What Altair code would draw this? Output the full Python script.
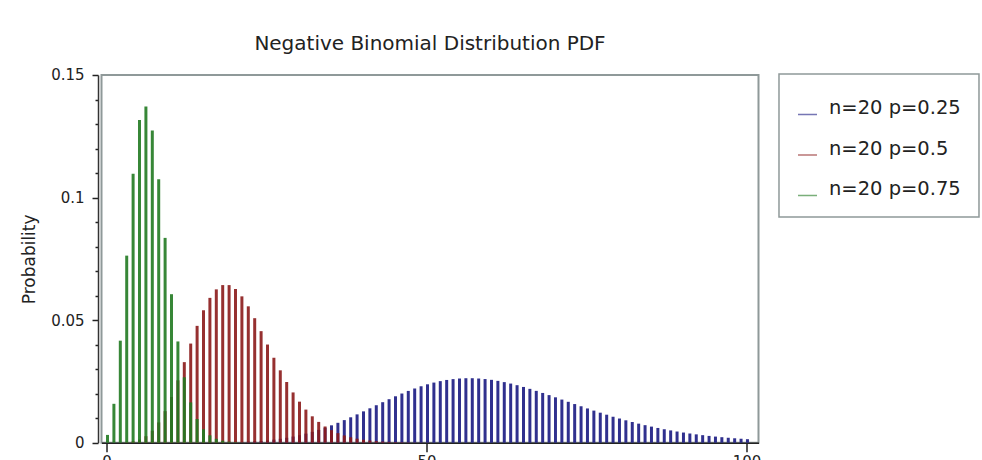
import altair as alt
import pandas as pd

series_names = ["n=20 p=0.25", "n=20 p=0.5", "n=20 p=0.75"]
series_colors = ["#1a1a82", "#8b1a1a", "#217a21"]

# n=20 p=0.25, k starts at 15
blue_start = 15
blue_vals = [0.00002, 0.00004, 0.00006, 0.00009, 0.00014, 0.00020, 0.00028, 0.00040, 0.00054, 0.00073,
             0.00097, 0.00125, 0.00160, 0.00201, 0.00250, 0.00306, 0.00370, 0.00443, 0.00523, 0.00612,
             0.00708, 0.00811, 0.00921, 0.01036, 0.01155, 0.01278, 0.01403, 0.01528, 0.01652, 0.01774,
             0.01893, 0.02006, 0.02112, 0.02211, 0.02302, 0.02382, 0.02452, 0.02511, 0.02559, 0.02594,
             0.02618, 0.02630, 0.02630, 0.02618, 0.02596, 0.02564, 0.02522, 0.02471, 0.02412, 0.02346,
             0.02274, 0.02196, 0.02114, 0.02029, 0.01941, 0.01851, 0.01759, 0.01668, 0.01576, 0.01486,
             0.01397, 0.01309, 0.01224, 0.01142, 0.01063, 0.00986, 0.00913, 0.00844, 0.00777, 0.00715,
             0.00656, 0.00601, 0.00549, 0.00501, 0.00456, 0.00414, 0.00375, 0.00340, 0.00307, 0.00276,
             0.00249, 0.00224, 0.00201, 0.00180, 0.00161, 0.00143]

# n=20 p=0.5, k starts at 0
red_start = 0
red_vals = [0.000001, 0.00001, 0.00005, 0.00018, 0.00053, 0.00127, 0.00264, 0.00490, 0.00827, 0.01287,
            0.01865, 0.02544, 0.03286, 0.04044, 0.04766, 0.05402, 0.05908, 0.06255, 0.06429, 0.06429,
            0.06269, 0.05970, 0.05563, 0.05079, 0.04550, 0.04004, 0.03465, 0.02952, 0.02477, 0.02050,
            0.01674, 0.01350, 0.01076, 0.00848, 0.00661, 0.00510, 0.00389, 0.00295, 0.00221, 0.00164,
            0.00121, 0.00089, 0.00064, 0.00046, 0.00033, 0.00024, 0.00017, 0.00012, 0.00008, 0.00006,
            0.00004]

# n=20 p=0.75, k starts at 0
green_start = 0
green_vals = [0.00317, 0.01586, 0.04162, 0.07631, 0.10969, 0.13163, 0.13711, 0.12732, 0.10743, 0.08355,
              0.06058, 0.04130, 0.02667, 0.01642, 0.00967, 0.00548, 0.00300, 0.00159, 0.00082, 0.00041,
              0.00020, 0.00009, 0.00004]

x_ticks = [0, 50, 100]
y_ticks = [0, 0.01, 0.02, 0.03, 0.04, 0.05, 0.06, 0.07, 0.08, 0.09, 0.1,
           0.11, 0.12, 0.13, 0.14, 0.15]

rows = []
for name, start, vals in zip(series_names,
                             [blue_start, red_start, green_start],
                             [blue_vals, red_vals, green_vals]):
    for i, v in enumerate(vals):
        rows.append({"k": start + i, "p": v, "series": name})
df = pd.DataFrame(rows)

FONT = "DejaVu Sans"
LINE_SYMBOL = "M -1 -0.08 L 1 -0.08 L 1 0.08 L -1 0.08 Z"

chart = alt.Chart(df).mark_bar(size=3, opacity=0.9, xOffset=1).encode(
    x=alt.X("k:Q",
            scale=alt.Scale(domain=[0, 101.1], nice=False, zero=False),
            axis=alt.Axis(values=x_ticks, title=None, tickSize=9, tickWidth=1.5,
                          tickColor="#222", domainColor="#222", domainWidth=1.5,
                          labelFontSize=15, labelPadding=3, grid=False, labelColor="#222",
                          labelFont=FONT)),
    y=alt.Y("p:Q", stack=None,
            scale=alt.Scale(domain=[0, 0.15], nice=False),
            axis=alt.Axis(values=y_ticks, title="Probability", offset=3.5,
                          tickSize={"condition": {"test": "round(datum.value*100) % 5 == 0", "value": 6}, "value": 3},
                          tickWidth=1.5, tickColor="#222", domainColor="#333", domainWidth=1.5,
                          labelExpr="round(datum.value*100) % 5 == 0 ? format(datum.value, '.2~f') : ''",
                          labelFontSize=15, labelPadding=8, labelColor="#222", labelFont=FONT,
                          titleFontSize=17, titlePadding=12, titleFontWeight="normal",
                          titleColor="#222", titleFont=FONT, grid=False)),
    color=alt.Color("series:N",
                    scale=alt.Scale(domain=series_names, range=series_colors),
                    legend=alt.Legend(title=" ", titleFontSize=10, titlePadding=2,
                                      orient="none", legendX=677.5, legendY=-1,
                                      direction="vertical", padding=18,
                                      strokeColor="#8f9999", fillColor="white",
                                      symbolType=LINE_SYMBOL, symbolSize=361,
                                      symbolOpacity=0.6,
                                      labelFontSize=19.5, labelOffset=11, labelFont=FONT,
                                      titleFont=FONT,
                                      labelBaseline="alphabetic", rowPadding=20.5,
                                      labelColor="#222")),
).properties(
    width=657,
    height=367.7,
    background="white",
    title=alt.TitleParams("Negative Binomial Distribution PDF", fontSize=20,
                          font=FONT, fontWeight="normal", anchor="middle",
                          offset=3, dy=5, baseline="alphabetic", color="#222"),
    padding={"left": 101.5, "top": 75, "right": 223, "bottom": 17},
    autosize=alt.AutoSizeParams(type="none"),
).configure_view(
    stroke="#8f9999", strokeWidth=2
).configure_legend(
    strokeWidth=1.5
)

chart.save("out.html", embed_options={"renderer": "svg", "actions": False})
